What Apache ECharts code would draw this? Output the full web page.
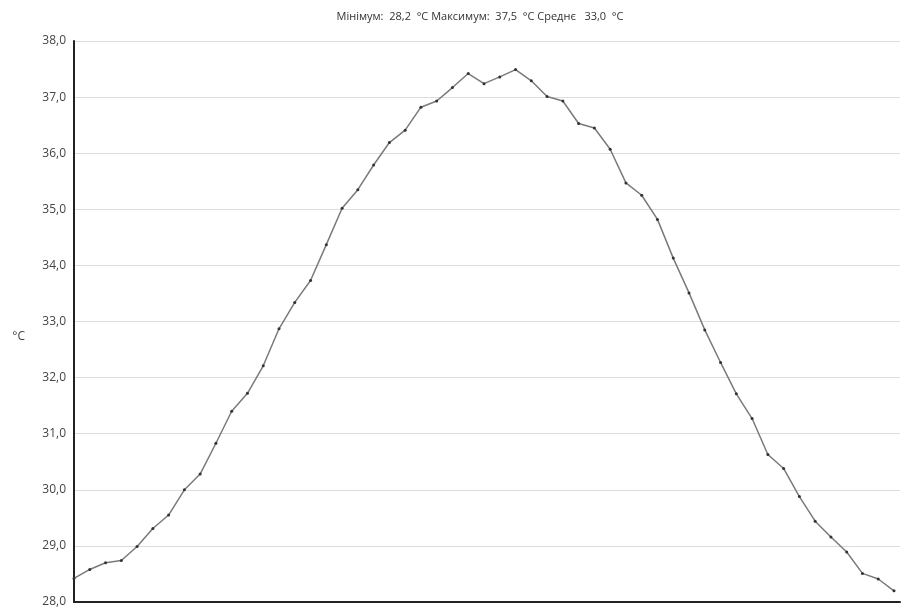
<!DOCTYPE html>
<html>
<head>
<meta charset="utf-8">
<script src="https://cdn.jsdelivr.net/npm/echarts@6/dist/echarts.min.js"></script>
<style>html,body{margin:0;padding:0;background:#fff}#c{width:901px;height:609px}</style>
</head>
<body>
<div id="c"></div>
<script>
const titleText = 'Мінімум:  28,2  °C Максимум:  37,5  °C Среднє   33,0  °C';
const yAxisName = '°C';
const temps = [
  28.42, 28.58, 28.70, 28.74, 28.99, 29.31, 29.55, 30.00, 30.28, 30.83,
  31.40, 31.72, 32.21, 32.87, 33.34, 33.73, 34.37, 35.02, 35.35, 35.79,
  36.19, 36.41, 36.82, 36.93, 37.17, 37.42, 37.24, 37.36, 37.49, 37.29,
  37.01, 36.93, 36.53, 36.45, 36.07, 35.47, 35.25, 34.82, 34.13, 33.51,
  32.85, 32.27, 31.71, 31.27, 30.63, 30.38, 29.88, 29.44, 29.16, 28.89,
  28.51, 28.41, 28.20
];
const yMin = 28, yMax = 38, yStep = 1;

const chart = echarts.init(document.getElementById('c'), null, {renderer: 'canvas'});
chart.setOption({
  animation: false,
  backgroundColor: '#fff',
  title: {
    text: titleText,
    left: 475, textAlign: 'center', top: 6,
    textStyle: {fontFamily: 'Open Sans', fontSize: 11, fontWeight: 'normal', color: '#333'}
  },
  grid: {left: 74, right: 1, top: 41, bottom: 7},
  xAxis: {
    type: 'value', min: 0, max: 52.38,
    axisLine: {show: true, onZero: false, lineStyle: {color: '#222', width: 2}},
    axisTick: {show: false}, axisLabel: {show: false}, splitLine: {show: false}
  },
  yAxis: {
    type: 'value', min: yMin, max: yMax, interval: yStep,
    name: yAxisName, nameLocation: 'middle', nameRotate: 0, nameGap: 49,
    nameMoveOverlap: false,
    nameTextStyle: {fontFamily: 'Open Sans', fontSize: 12, color: '#444', verticalAlign: 'top', lineHeight: 30},
    axisLine: {show: true, lineStyle: {color: '#222', width: 2}},
    axisTick: {show: false},
    axisLabel: {
      fontFamily: 'Open Sans', fontSize: 12, color: '#444', margin: 8,
      formatter: v => v.toFixed(1).replace('.', ',')
    },
    splitLine: {show: true, lineStyle: {color: '#dcdcdc', width: 1}}
  },
  series: [{
    type: 'line',
    data: temps.map((v, i) => [i, v]),
    symbol: 'circle', symbolSize: 3,
    itemStyle: {color: '#333'},
    lineStyle: {color: '#7a7a7a', width: 1.5}
  }]
});
</script>
</body>
</html>
